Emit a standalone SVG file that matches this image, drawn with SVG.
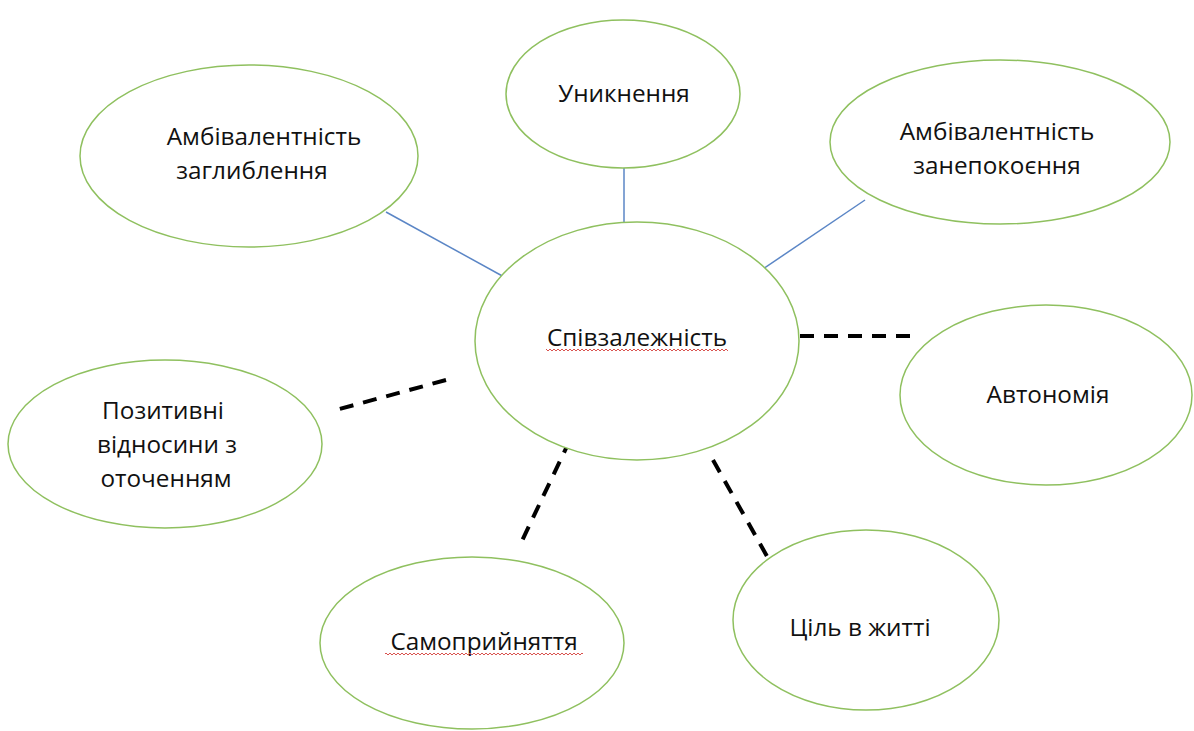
<svg xmlns="http://www.w3.org/2000/svg" width="1194" height="731" viewBox="0 0 1194 731">
<style>
.node ellipse{fill:#fff;stroke:#8fc05f;stroke-width:1.5}
.lbl{font-family:"Open Sans","Liberation Sans",sans-serif;font-size:24.3px;fill:#111;text-anchor:middle}
.solid{stroke:#5b86c6;stroke-width:1.5;fill:none}
.dash{stroke:#000;stroke-width:4;stroke-dasharray:14 10;fill:none}
</style>
<defs>
<pattern id="wave" width="4" height="4" patternUnits="userSpaceOnUse">
<polyline points="0,3 2,1 4,3" fill="none" stroke="#d9534f" stroke-width="1"/>
</pattern>
</defs>
<rect width="1194" height="731" fill="#fff"/>
<g id="connectors">
<line class="solid" x1="386" y1="212" x2="506" y2="278"/>
<line class="solid" x1="624" y1="168" x2="624" y2="238"/>
<line class="solid" x1="865" y1="200" x2="757" y2="273"/>
<line class="dash" x1="800" y1="336" x2="918" y2="336"/>
<line class="dash" x1="446" y1="380" x2="336" y2="410" stroke-width="5"/>
<line class="dash" x1="570" y1="440" x2="520" y2="545"/>
<line class="dash" x1="713" y1="460" x2="768" y2="558"/>
</g>
<g id="n-center" class="node">
<ellipse cx="637" cy="341" rx="162" ry="119"/>
<text class="lbl" x="637" y="346">Співзалежність</text>
<rect x="546" y="349" width="182" height="4" fill="url(#wave)"/>
</g>
<g id="n-zagl" class="node">
<ellipse cx="249" cy="156" rx="169" ry="91"/>
<text class="lbl" x="264" y="145">Амбівалентність</text>
<text class="lbl" x="252" y="179">заглиблення</text>
</g>
<g id="n-unyk" class="node">
<ellipse cx="623" cy="94" rx="117" ry="74"/>
<text class="lbl" x="624" y="102">Уникнення</text>
</g>
<g id="n-zanep" class="node">
<ellipse cx="1000" cy="142" rx="170" ry="82"/>
<text class="lbl" x="997" y="140">Амбівалентність</text>
<text class="lbl" x="997" y="174">занепокоєння</text>
</g>
<g id="n-avto" class="node">
<ellipse cx="1046" cy="395" rx="146" ry="90"/>
<text class="lbl" x="1048" y="403">Автономія</text>
</g>
<g id="n-pozyt" class="node">
<ellipse cx="165" cy="444" rx="157" ry="84"/>
<text class="lbl" x="163" y="419">Позитивні</text>
<text class="lbl" x="167" y="453">відносини з</text>
<text class="lbl" x="166" y="487">оточенням</text>
</g>
<g id="n-samo" class="node">
<ellipse cx="472" cy="643" rx="152" ry="86"/>
<text class="lbl" x="484" y="650">Самоприйняття</text>
<rect x="385" y="653" width="198" height="4" fill="url(#wave)"/>
</g>
<g id="n-cil" class="node">
<ellipse cx="866" cy="620" rx="133" ry="90"/>
<text class="lbl" x="860" y="636">Ціль в житті</text>
</g>
</svg>
